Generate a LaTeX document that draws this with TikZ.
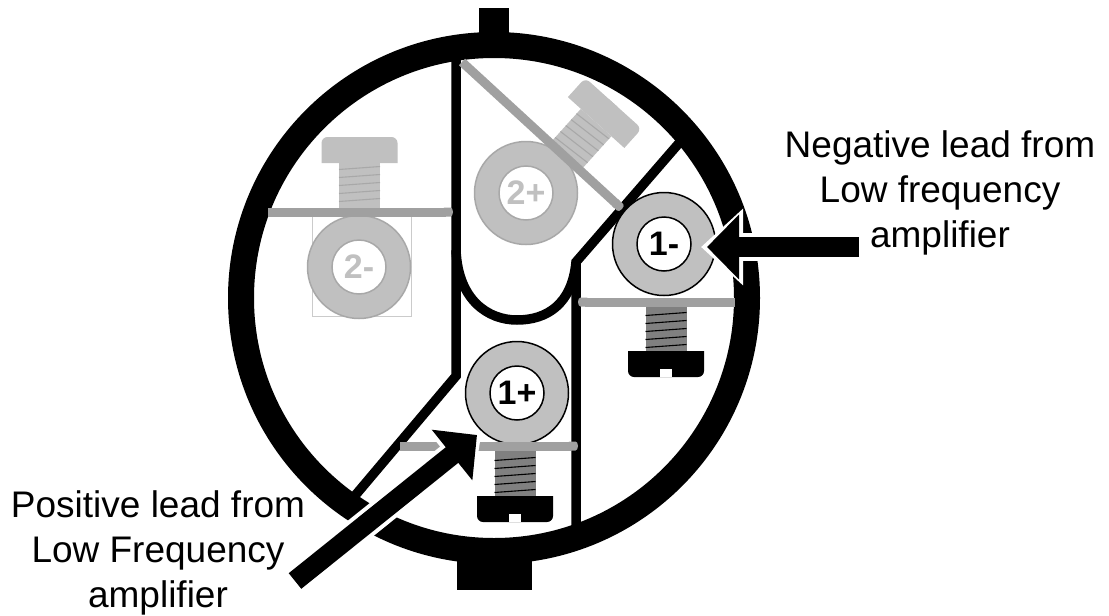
\documentclass[tikz,border=0pt]{standalone}
\usepackage{fontspec}
\setmainfont{Liberation Sans}
\usepackage{tikz}
\usetikzlibrary{arrows.meta, positioning}
\definecolor{plate}{HTML}{C0C0C0}
\definecolor{tab}{HTML}{A0A0A0}
\definecolor{edge}{HTML}{A8A8A8}
\tikzset{
	ring/.style={draw=black, line width=26pt},
	wall/.style={draw=black, line width=9.5pt, miter limit=10},
	lug/.style={fill=black},
	strip/.style={draw=tab, line width=9pt, -{Round Cap[length=2.5pt]}},
	washer/.style={circle, draw=#1, fill=plate, line width=1.5pt, minimum size=103pt, inner sep=0pt},
	hole/.style={circle, draw=#1, fill=white, line width=1.5pt, minimum size=54pt, inner sep=0pt, font=\fontsize{34}{34}\selectfont\bfseries},
	lead/.style={draw=black, line width=20pt, -{Triangle[length=32pt,width=63pt]}},
	leadhalo/.style={draw=white, line width=28pt, shorten >=-6pt, -{Triangle[length=42pt,width=74pt]}},
	caption/.style={align=center, inner sep=0pt, font=\fontsize{37}{45}\selectfont},
	pics/screw/.style n args={4}{code={
		\fill[#1] (-20.5,0) rectangle (20.5,-45);
		\foreach \k in {1,...,5}
		\draw[#2, line width=1.1pt] (-20.5,-\k*8+1.5) -- (20.5,-\k*8-1.5);
		\fill[#3] (-38,-45) [rounded corners=6pt] -- (-38,-71) -- (38,-71) [sharp corners] -- (38,-45) -- cycle;
		\fill[#4] (-6,-63) rectangle (6,-71);
	}}
}
\begin{document}
\begin{tikzpicture}[x=1pt,y=-1pt]
	\useasboundingbox[fill=white] (0,0) rectangle (1109,616);
	% Housing
	\node[lug, minimum width=30pt, minimum height=30pt, inner sep=0pt] (lug-top) at (494,23) {};
	\node[lug, minimum width=75pt, minimum height=30pt, inner sep=0pt] (lug-bot) at (494.5,575) {};
	\draw[ring] (494,298) circle (253);
	% Partitions
	\draw[wall] (456,55) -- (456,376) -- (353,498);
	\draw[wall] (576,535) -- (576,262) -- (680,142);
	\draw[wall] (456,250) .. controls (458,300) and (488,320) .. (517,320) .. controls (546,320) and (572,305) .. (576,262);
	% Screws
	\pic at (359.5,208) {screw={plate}{edge}{plate}{plate}};
	\pic[rotate=-42] at (566,156) {screw={plate}{edge}{plate}{plate}};
	\pic[rotate=180] at (515,451) {screw={gray}{black}{black}{white}};
	\pic[rotate=180] at (666,306) {screw={gray}{black}{black}{white}};
	% Washers
	\draw[edge!60, line width=0.7pt] (312,213) rectangle (411,316);
	\node[washer=edge] (W2m) at (359,267) {};
	\node[hole=edge, text=plate] (H2m) at (W2m) {2-};
	\node[washer=edge] (W2p) at (526,193) {};
	\node[hole=edge, text=plate] (H2p) at (W2p) {2+};
	\node[washer=black] (W1m) at (664,244) {};
	\node[hole=black] (H1m) at (W1m) {1-};
	\node[washer=black] (W1p) at (517,393) {};
	\node[hole=black] (H1p) at (W1p) {1+};
	% Strips
	\draw[strip] (268,212) -- (453,212);
	\draw[strip] (462,62) -- (622,209);
	\draw[strip] (735,302) -- (578,302);
	\draw[strip] (400,446) -- (578,446);
	% Leads
	\coordinate (neg-tail) at (859,247);
	\coordinate (neg-tip) at (707,247);
	\coordinate (pos-tail) at (295,581);
	\coordinate (pos-tip) at (477,435);
	\draw[leadhalo] (neg-tail) -- (neg-tip);
	\draw[lead] (neg-tail) -- (neg-tip);
	\draw[leadhalo] (pos-tail) -- (pos-tip);
	\draw[lead] (pos-tail) -- (pos-tip);
	% Captions
	\node[caption] (neg-text) at (940,193) {Negative lead from\\Low frequency\\amplifier};
	\node[caption] (pos-text) at (158,553) {Positive lead from\\Low Frequency\\amplifier};
\end{tikzpicture}
\end{document}
